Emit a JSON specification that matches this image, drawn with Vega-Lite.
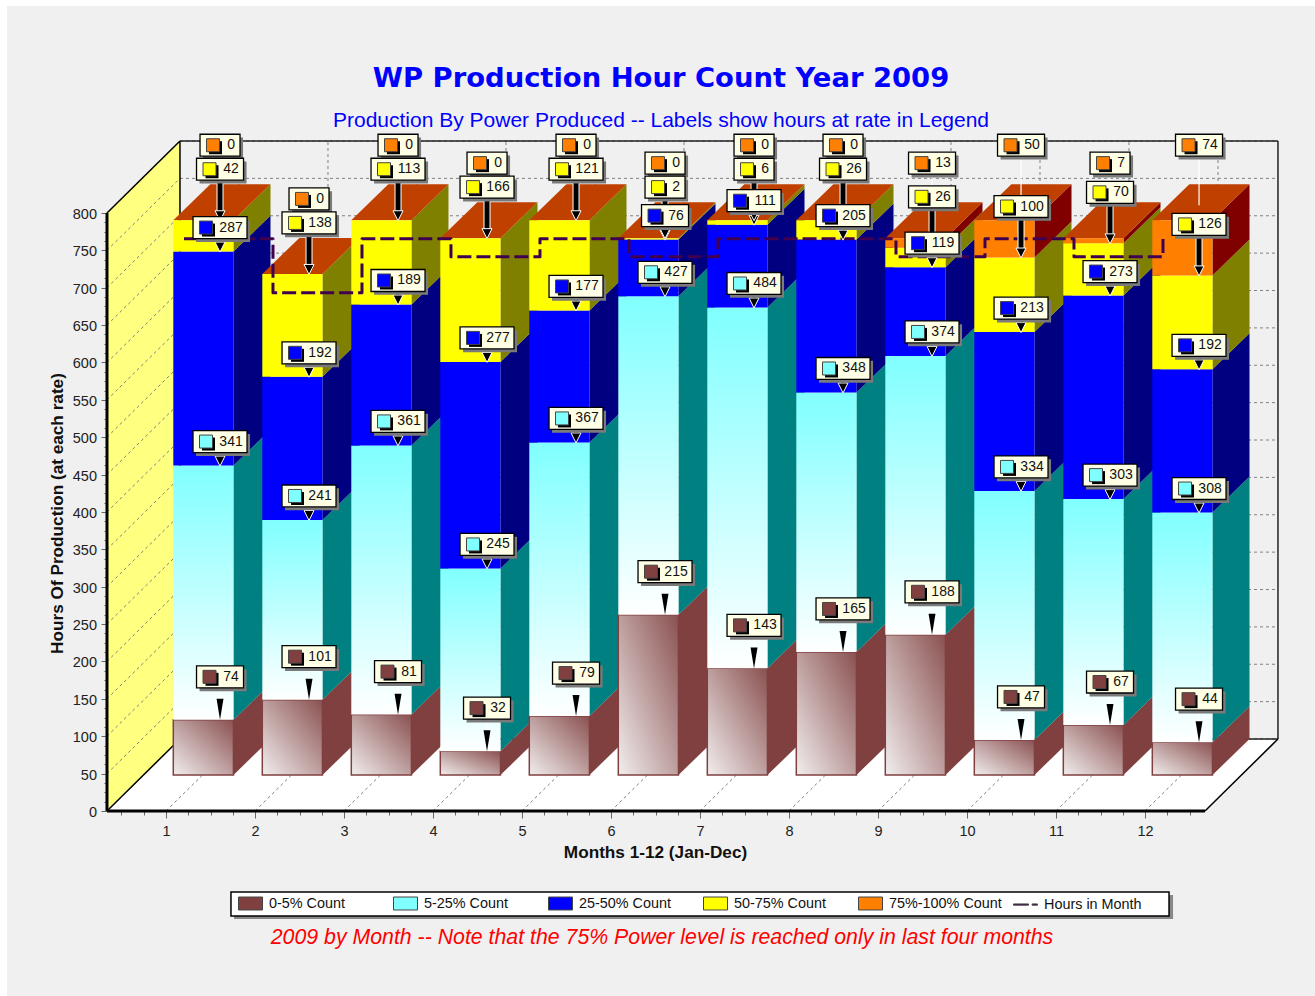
{"$schema":"https://vega.github.io/schema/vega-lite/v6.json","width":1308,"height":990,"autosize":{"type":"none"},"padding":{"left":7,"top":6,"right":0,"bottom":0},"background":"#ffffff","view":{"fill":"#f0f0f0","stroke":null},"config":{"font":"Liberation Sans"},
"title":{"text":"WP Production Hour Count Year 2009","subtitle":"Production By Power Produced -- Labels show hours at rate in Legend","anchor":"middle","offset":-125,"font":"DejaVu Sans","fontWeight":"bold","fontSize":27.4,"color":"#0000ff","subtitleFont":"Liberation Sans","subtitleFontSize":21,"subtitleColor":"#0000ff","subtitlePadding":18},
"datasets":{"hours":[{"month":1,"hours":744},{"month":2,"hours":672},{"month":3,"hours":744},{"month":4,"hours":720},{"month":5,"hours":744},{"month":6,"hours":720},{"month":7,"hours":744},{"month":8,"hours":744},{"month":9,"hours":720},{"month":10,"hours":744},{"month":11,"hours":720},{"month":12,"hours":744}],
"ticks":[{"h":0},{"h":50},{"h":100},{"h":150},{"h":200},{"h":250},{"h":300},{"h":350},{"h":400},{"h":450},{"h":500},{"h":550},{"h":600},{"h":650},{"h":700},{"h":750},{"h":800}],
"one":[{"n":1}],
"series":[{"series":"0-5% Count"},{"series":"5-25% Count"},{"series":"25-50% Count"},{"series":"50-75% Count"},{"series":"75%-100% Count"},{"series":"Hours in Month"}]},
"data":{"values":[
{"month":1,"order":0,"band":"0-5% Count","value":74},{"month":1,"order":1,"band":"5-25% Count","value":341},{"month":1,"order":2,"band":"25-50% Count","value":287},{"month":1,"order":3,"band":"50-75% Count","value":42},{"month":1,"order":4,"band":"75%-100% Count","value":0},
{"month":2,"order":0,"band":"0-5% Count","value":101},{"month":2,"order":1,"band":"5-25% Count","value":241},{"month":2,"order":2,"band":"25-50% Count","value":192},{"month":2,"order":3,"band":"50-75% Count","value":138},{"month":2,"order":4,"band":"75%-100% Count","value":0},
{"month":3,"order":0,"band":"0-5% Count","value":81},{"month":3,"order":1,"band":"5-25% Count","value":361},{"month":3,"order":2,"band":"25-50% Count","value":189},{"month":3,"order":3,"band":"50-75% Count","value":113},{"month":3,"order":4,"band":"75%-100% Count","value":0},
{"month":4,"order":0,"band":"0-5% Count","value":32},{"month":4,"order":1,"band":"5-25% Count","value":245},{"month":4,"order":2,"band":"25-50% Count","value":277},{"month":4,"order":3,"band":"50-75% Count","value":166},{"month":4,"order":4,"band":"75%-100% Count","value":0},
{"month":5,"order":0,"band":"0-5% Count","value":79},{"month":5,"order":1,"band":"5-25% Count","value":367},{"month":5,"order":2,"band":"25-50% Count","value":177},{"month":5,"order":3,"band":"50-75% Count","value":121},{"month":5,"order":4,"band":"75%-100% Count","value":0},
{"month":6,"order":0,"band":"0-5% Count","value":215},{"month":6,"order":1,"band":"5-25% Count","value":427},{"month":6,"order":2,"band":"25-50% Count","value":76},{"month":6,"order":3,"band":"50-75% Count","value":2},{"month":6,"order":4,"band":"75%-100% Count","value":0},
{"month":7,"order":0,"band":"0-5% Count","value":143},{"month":7,"order":1,"band":"5-25% Count","value":484},{"month":7,"order":2,"band":"25-50% Count","value":111},{"month":7,"order":3,"band":"50-75% Count","value":6},{"month":7,"order":4,"band":"75%-100% Count","value":0},
{"month":8,"order":0,"band":"0-5% Count","value":165},{"month":8,"order":1,"band":"5-25% Count","value":348},{"month":8,"order":2,"band":"25-50% Count","value":205},{"month":8,"order":3,"band":"50-75% Count","value":26},{"month":8,"order":4,"band":"75%-100% Count","value":0},
{"month":9,"order":0,"band":"0-5% Count","value":188},{"month":9,"order":1,"band":"5-25% Count","value":374},{"month":9,"order":2,"band":"25-50% Count","value":119},{"month":9,"order":3,"band":"50-75% Count","value":26},{"month":9,"order":4,"band":"75%-100% Count","value":13},
{"month":10,"order":0,"band":"0-5% Count","value":47},{"month":10,"order":1,"band":"5-25% Count","value":334},{"month":10,"order":2,"band":"25-50% Count","value":213},{"month":10,"order":3,"band":"50-75% Count","value":100},{"month":10,"order":4,"band":"75%-100% Count","value":50},
{"month":11,"order":0,"band":"0-5% Count","value":67},{"month":11,"order":1,"band":"5-25% Count","value":303},{"month":11,"order":2,"band":"25-50% Count","value":273},{"month":11,"order":3,"band":"50-75% Count","value":70},{"month":11,"order":4,"band":"75%-100% Count","value":7},
{"month":12,"order":0,"band":"0-5% Count","value":44},{"month":12,"order":1,"band":"5-25% Count","value":308},{"month":12,"order":2,"band":"25-50% Count","value":192},{"month":12,"order":3,"band":"50-75% Count","value":126},{"month":12,"order":4,"band":"75%-100% Count","value":74}
]},
"transform":[{"stack":"value","groupby":["month"],"sort":[{"field":"order","order":"ascending"}],"as":["low","high"]},
{"calculate":"datum.month+0.082","as":"x"},{"calculate":"datum.month+0.758","as":"xR"},{"calculate":"datum.low*0.9975+48.16","as":"y"},{"calculate":"datum.high*0.9975+48.16","as":"yT"},
{"calculate":"datum.month+0.607","as":"labelX"},{"calculate":"datum.yT+[43,24,24,51,75][datum.order]/0.7475","as":"labelY"},{"calculate":"(33+7*length(toString(datum.value)))/2/89","as":"halfW"}],
"encoding":{"x":{"field":"x","type":"quantitative","title":"Months 1-12 (Jan-Dec)","scale":{"domain":[-0.7865,13.91],"nice":false,"zero":false},"axis":{"offset":-185,"orient":"bottom","domain":false,"grid":false,"values":[0.5,0.75,1,1.25,1.5,1.75,2,2.25,2.5,2.75,3,3.25,3.5,3.75,4,4.25,4.5,4.75,5,5.25,5.5,5.75,6,6.25,6.5,6.75,7,7.25,7.5,7.75,8,8.25,8.5,8.75,9,9.25,9.5,9.75,10,10.25,10.5,10.75,11,11.25,11.5,11.75,12,12.25,12.5],"labelExpr":"datum.value%1==0?datum.value:''","labelOverlap":false,"labelFontSize":14.5,"labelColor":"#222222","labelPadding":6,"tickColor":"#666666","tickSize":{"condition":{"test":"datum.value%1==0","value":7},"value":4},"titleFontSize":17.2,"titleFontWeight":"bold","titleColor":"#111111","titleX":648,"titleY":32,"titleAnchor":"middle"}},
"y":{"field":"y","type":"quantitative","title":"Hours Of Production (at each rate)","scale":{"domain":[-247.5,1076.9],"nice":false,"zero":false},"axis":{"offset":-100,"orient":"left","domain":false,"grid":false,"values":[0,12.5,25,37.5,50,62.5,75,87.5,100,112.5,125,137.5,150,162.5,175,187.5,200,212.5,225,237.5,250,262.5,275,287.5,300,312.5,325,337.5,350,362.5,375,387.5,400,412.5,425,437.5,450,462.5,475,487.5,500,512.5,525,537.5,550,562.5,575,587.5,600,612.5,625,637.5,650,662.5,675,687.5,700,712.5,725,737.5,750,762.5,775,787.5,800],"labelExpr":"datum.value%50==0?datum.value:''","labelOverlap":false,"labelFontSize":14.5,"labelColor":"#222222","labelPadding":4.5,"labelOffset":1.5,"tickColor":"#666666","tickSize":{"condition":{"test":"datum.value%50==0","value":6},"value":3},"titleFontSize":17.2,"titleFontWeight":"bold","titleColor":"#111111","titleX":-41,"titleY":507,"titleAnchor":"middle"}}},
"layer":[
{"data":{"values":[{"d":0},{"d":1}]},"transform":[{"calculate":"0.337+datum.d*0.82","as":"x"},{"calculate":"datum.d*96.3","as":"y"},{"calculate":"800+datum.d*96.3","as":"yT"}],"mark":{"type":"area","color":"#ffff80","opacity":1},"encoding":{"y2":{"field":"yT"}}},
{"data":{"values":[{"d":0},{"d":1}]},"transform":[{"calculate":"0.337+datum.d*0.82","as":"x"},{"calculate":"datum.d*96.3","as":"y"},{"calculate":"12.674+datum.d*0.82","as":"xE"}],"mark":{"type":"area","orient":"horizontal","color":"#ffffff","opacity":1},"encoding":{"x2":{"field":"xE"}}},
{"data":{"name":"ticks"},"transform":[{"calculate":"0.337","as":"x"},{"calculate":"datum.h","as":"y"},{"calculate":"1.157","as":"x2"},{"calculate":"datum.h+96.3","as":"y2"}],"mark":{"type":"rule","color":"#808080","strokeDash":[3,3],"strokeWidth":1},"encoding":{"x2":{"field":"x2"},"y2":{"field":"y2"}}},
{"data":{"name":"ticks"},"transform":[{"calculate":"1.157","as":"x"},{"calculate":"datum.h+96.3","as":"y"},{"calculate":"13.494","as":"x2"}],"mark":{"type":"rule","color":"#808080","strokeDash":[3,3],"strokeWidth":1},"encoding":{"x2":{"field":"x2"}}},
{"data":{"name":"hours"},"transform":[{"calculate":"datum.month","as":"x"},{"calculate":"0","as":"y"},{"calculate":"datum.month+0.82","as":"x2"},{"calculate":"96.3","as":"y2"}],"mark":{"type":"rule","color":"#808080","strokeDash":[3,3],"strokeWidth":1},"encoding":{"x2":{"field":"x2"},"y2":{"field":"y2"}}},
{"data":{"name":"hours"},"transform":[{"calculate":"datum.month+0.82","as":"x"},{"calculate":"96.3","as":"y"},{"calculate":"896.3","as":"y2"}],"mark":{"type":"rule","color":"#808080","strokeDash":[3,3],"strokeWidth":1},"encoding":{"y2":{"field":"y2"}}},
{"data":{"name":"one"},"transform":[{"calculate":"0.337","as":"x"},{"calculate":"1.157","as":"xE"},{"calculate":"800","as":"y"},{"calculate":"896.3","as":"yE"}],"mark":{"type":"rule","color":"#000000","strokeWidth":1.5},"encoding":{"x2":{"field":"xE"},"y2":{"field":"yE"}}},
{"data":{"name":"one"},"transform":[{"calculate":"0.337","as":"x"},{"calculate":"1.157","as":"xE"},{"calculate":"0","as":"y"},{"calculate":"96.3","as":"yE"}],"mark":{"type":"rule","color":"#000000","strokeWidth":1.5},"encoding":{"x2":{"field":"xE"},"y2":{"field":"yE"}}},
{"data":{"name":"one"},"transform":[{"calculate":"1.157","as":"x"},{"calculate":"96.3","as":"y"},{"calculate":"896.3","as":"yE"}],"mark":{"type":"rule","color":"#000000","strokeWidth":1.5},"encoding":{"y2":{"field":"yE"}}},
{"data":{"name":"one"},"transform":[{"calculate":"1.157","as":"x"},{"calculate":"13.494","as":"xE"},{"calculate":"896.3","as":"y"}],"mark":{"type":"rule","color":"#222222","strokeWidth":1.5},"encoding":{"x2":{"field":"xE"}}},
{"data":{"name":"one"},"transform":[{"calculate":"13.494","as":"x"},{"calculate":"96.3","as":"y"},{"calculate":"896.3","as":"yE"}],"mark":{"type":"rule","color":"#222222","strokeWidth":1.5},"encoding":{"y2":{"field":"yE"}}},
{"data":{"name":"one"},"transform":[{"calculate":"1.157","as":"x"},{"calculate":"13.494","as":"xE"},{"calculate":"96.3","as":"y"}],"mark":{"type":"rule","color":"#222222","strokeWidth":1.5},"encoding":{"x2":{"field":"xE"}}},
{"data":{"name":"one"},"transform":[{"calculate":"12.674","as":"x"},{"calculate":"13.494","as":"xE"},{"calculate":"0","as":"y"},{"calculate":"96.3","as":"yE"}],"mark":{"type":"rule","color":"#000000","strokeWidth":1.5},"encoding":{"x2":{"field":"xE"},"y2":{"field":"yE"}}},
{"data":{"name":"one"},"transform":[{"calculate":"0.337","as":"x"},{"calculate":"12.674","as":"xE"},{"calculate":"0","as":"y"}],"mark":{"type":"rule","color":"#000000","strokeWidth":3},"encoding":{"x2":{"field":"xE"}}},
{"data":{"name":"one"},"transform":[{"calculate":"0.337","as":"x"},{"calculate":"0","as":"y"},{"calculate":"800","as":"yE"}],"mark":{"type":"rule","color":"#000000","strokeWidth":3},"encoding":{"y2":{"field":"yE"}}},
{"transform":[{"filter":"datum.value>0"},{"calculate":"[0,1]","as":"ts"},{"flatten":["ts"]},{"calculate":"datum.y+datum.ts*48.16","as":"y"},{"calculate":"datum.yT+datum.ts*48.16","as":"yS"},{"calculate":"datum.xR+datum.ts*0.416","as":"x"}],"mark":{"type":"area","opacity":1},"encoding":{"y2":{"field":"yS"},"detail":{"field":"month"},"fill":{"field":"band","type":"nominal","legend":null,"scale":{"domain":["0-5% Count","5-25% Count","25-50% Count","50-75% Count","75%-100% Count"],"range":["#804040","#008080","#000080","#808000","#800000"]}}}},
{"transform":[{"filter":"datum.order==4"},{"calculate":"[0,1]","as":"ts"},{"flatten":["ts"]},{"calculate":"datum.yT+datum.ts*48.16","as":"y"},{"calculate":"datum.x+datum.ts*0.416","as":"x"},{"calculate":"datum.xR+datum.ts*0.416","as":"xS"}],"mark":{"type":"area","orient":"horizontal","color":"#c04000","opacity":1},"encoding":{"x2":{"field":"xS"},"detail":{"field":"month"}}},
{"transform":[{"filter":"datum.order==0"}],"mark":{"type":"rect","stroke":"#804040","strokeWidth":1.5,"fill":{"gradient":"linear","x1":1,"y1":0,"x2":0,"y2":1,"stops":[{"offset":0,"color":"#8a5050"},{"offset":1,"color":"#f2eeee"}]}},"encoding":{"x2":{"field":"xR"},"y2":{"field":"yT"}}},
{"transform":[{"filter":"datum.order==1"}],"mark":{"type":"rect","fill":{"gradient":"linear","x1":0,"y1":0,"x2":0,"y2":1,"stops":[{"offset":0,"color":"#80ffff"},{"offset":1,"color":"#ffffff"}]}},"encoding":{"x2":{"field":"xR"},"y2":{"field":"yT"}}},
{"transform":[{"filter":"datum.order>=2 && datum.value>0"}],"mark":{"type":"rect"},"encoding":{"x2":{"field":"xR"},"y2":{"field":"yT"},"color":{"field":"band","type":"nominal"}}},
{"data":{"name":"hours"},"transform":[{"calculate":"datum.month+0.202","as":"x"},{"calculate":"datum.hours+21.4","as":"y"}],"mark":{"type":"line","interpolate":"step-after","color":"#400050","strokeWidth":3,"strokeDash":[14,5],"strokeJoin":"round"}},
{"transform":[{"filter":"datum.order==4"},{"calculate":"datum.labelX","as":"x"},{"calculate":"datum.labelY","as":"y"},{"calculate":"datum.yT+20","as":"y2"}],"mark":{"type":"rule","color":"#ffffff","strokeWidth":1.2},"encoding":{"y2":{"field":"y2"}}},
{"transform":[{"filter":"datum.order==0"},{"calculate":"datum.labelX","as":"x"},{"calculate":"datum.labelY","as":"y"},{"calculate":"datum.yT+20","as":"y2"}],"mark":{"type":"rule","color":"#ffffff","strokeWidth":1.5},"encoding":{"y2":{"field":"y2"}}},
{"transform":[{"filter":"datum.order>=1 && datum.order<=3"},{"calculate":"datum.labelX","as":"x"},{"calculate":"datum.labelY","as":"y"},{"calculate":"datum.yT+8","as":"y2"}],"mark":{"type":"rule","color":"#ffffff","strokeWidth":7},"encoding":{"y2":{"field":"y2"}}},
{"transform":[{"filter":"datum.order>=1 && datum.order<=3"},{"calculate":"datum.labelX","as":"x"},{"calculate":"datum.labelY","as":"y"},{"calculate":"datum.yT+8","as":"y2"}],"mark":{"type":"rule","color":"#000000","strokeWidth":5},"encoding":{"y2":{"field":"y2"}}},
{"transform":[{"filter":"datum.order>=1 && datum.order<=3"},{"calculate":"datum.labelX","as":"x"},{"calculate":"datum.yT+6","as":"y"}],"mark":{"type":"point","shape":"M-1,-1H1L0,1Z","filled":true,"size":100,"fill":"#000000","stroke":"#ffffff","strokeWidth":1,"opacity":1}},
{"transform":[{"filter":"datum.order==0"},{"calculate":"datum.labelX","as":"x"},{"calculate":"datum.yT+14","as":"y"}],"mark":{"type":"point","shape":"M-0.33,-1H0.33L0,1Z","filled":true,"size":441,"fill":"#000000","opacity":1}},
{"transform":[{"calculate":"datum.labelX-datum.halfW+0.034","as":"x"},{"calculate":"datum.labelX+datum.halfW+0.034","as":"xE"},{"calculate":"datum.labelY-14.7-4.5","as":"y"},{"calculate":"datum.labelY+14.7-4.5","as":"yE"}],"mark":{"type":"rect","fill":"#7a7a7a"},"encoding":{"x2":{"field":"xE"},"y2":{"field":"yE"}}},
{"transform":[{"calculate":"datum.labelX-datum.halfW","as":"x"},{"calculate":"datum.labelX+datum.halfW","as":"xE"},{"calculate":"datum.labelY-14.7","as":"y"},{"calculate":"datum.labelY+14.7","as":"yE"}],"mark":{"type":"rect","fill":"#ffffe6","stroke":"#000000","strokeWidth":1.3},"encoding":{"x2":{"field":"xE"},"y2":{"field":"yE"}}},
{"transform":[{"calculate":"datum.labelX-datum.halfW+13/89+2.5/89","as":"x"},{"calculate":"datum.labelY-2.5/0.7475","as":"y"}],"mark":{"type":"point","shape":"square","filled":true,"size":169,"fill":"#000000","opacity":1}},
{"transform":[{"calculate":"datum.labelX-datum.halfW+13/89","as":"x"},{"calculate":"datum.labelY","as":"y"}],"mark":{"type":"point","shape":"square","filled":true,"size":169,"stroke":"#444444","strokeWidth":1,"opacity":1},"encoding":{"color":{"field":"band","type":"nominal"}}},
{"transform":[{"calculate":"datum.labelX+11/89","as":"x"},{"calculate":"datum.labelY","as":"y"}],"mark":{"type":"text","fontSize":14,"color":"#111111"},"encoding":{"text":{"field":"value","type":"nominal"}}},
{"data":{"name":"one"},"transform":[{"calculate":"1.764","as":"x"},{"calculate":"12.315","as":"xE"},{"calculate":"-112.4","as":"y"},{"calculate":"-144.5","as":"yE"}],"mark":{"type":"rect","fill":"#888888"},"encoding":{"x2":{"field":"xE"},"y2":{"field":"yE"}}},
{"data":{"name":"one"},"transform":[{"calculate":"1.730","as":"x"},{"calculate":"12.270","as":"xE"},{"calculate":"-108.4","as":"y"},{"calculate":"-140.5","as":"yE"}],"mark":{"type":"rect","fill":"#ffffff","stroke":"#000000","strokeWidth":1.5},"encoding":{"x2":{"field":"xE"},"y2":{"field":"yE"}}},
{"data":{"name":"one"},"transform":[{"calculate":"6.573","as":"x"},{"calculate":"-170","as":"y"}],"mark":{"type":"text","text":"2009 by Month -- Note that the 75% Power level is reached only in last four months","font":"Liberation Sans","fontStyle":"italic","fontSize":21.3,"color":"#ff0000"}},
{"data":{"name":"series"},"transform":[{"calculate":"1","as":"x"},{"calculate":"1","as":"y"}],"mark":{"type":"point","filled":true,"opacity":0},"encoding":{"color":{"field":"series","type":"nominal","scale":{"domain":["0-5% Count","5-25% Count","25-50% Count","50-75% Count","75%-100% Count","Hours in Month"],"range":["#804040","#80ffff","#0000ff","#ffff00","#ff8000","#400050"]},"legend":{"title":null,"orient":"none","legendX":231,"legendY":885,"direction":"horizontal","columns":6,"gridAlign":"all","columnPadding":9,"padding":0,"symbolSize":576,"symbolOpacity":1,"symbolStrokeColor":"#333333","symbolStrokeWidth":1,"labelFontSize":14.4,"labelColor":"#111111","labelOffset":6}},"shape":{"field":"series","type":"nominal","scale":{"domain":["0-5% Count","5-25% Count","25-50% Count","50-75% Count","75%-100% Count","Hours in Month"],"range":["M-1,-0.54H1V0.54H-1Z","M-1,-0.54H1V0.54H-1Z","M-1,-0.54H1V0.54H-1Z","M-1,-0.54H1V0.54H-1Z","M-1,-0.54H1V0.54H-1Z","M-1,-0.05H0.25V0.05H-1Z M0.55,-0.05H1V0.05H0.55Z"]},"legend":{"title":null,"orient":"none","legendX":231,"legendY":885,"direction":"horizontal","columns":6,"gridAlign":"all","columnPadding":9,"padding":0,"symbolSize":576,"symbolOpacity":1,"symbolStrokeColor":"#333333","symbolStrokeWidth":1,"labelFontSize":14.4,"labelColor":"#111111","labelOffset":6}}}}
]}
